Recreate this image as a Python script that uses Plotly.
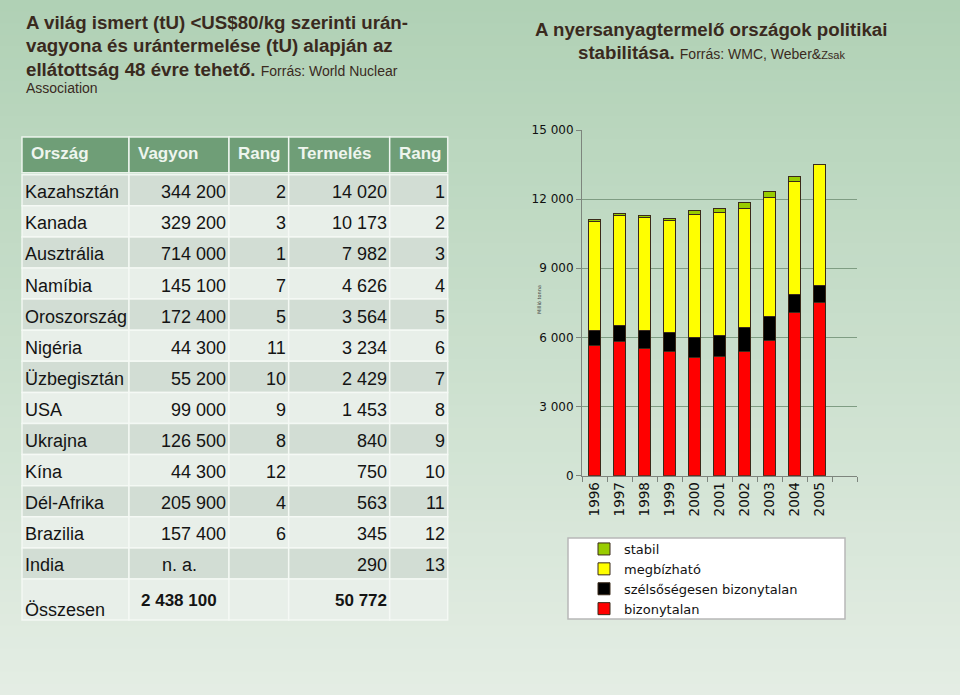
import plotly.graph_objects as go

# ---------------- data ----------------
years = [1996, 1997, 1998, 1999, 2000, 2001, 2002, 2003, 2004, 2005]
year_labels = ["1996", "1997", "1998", "1999", "2000", "2001", "2002", "2003", "2004", "2005"]
bizonytalan = [5640, 5840, 5510, 5390, 5150, 5190, 5390, 5880, 7080, 7500]
szelsoseges = [660, 695, 795, 840, 850, 880, 1045, 1015, 770, 740]
megbizhato = [4715, 4740, 4885, 4830, 5335, 5350, 5145, 5175, 4900, 5250]
stabil = [100, 90, 100, 100, 175, 175, 260, 245, 230, 0]
y_ticks = [0, 3000, 6000, 9000, 12000, 15000]

countries = ["Kazahsztán", "Kanada", "Ausztrália", "Namíbia", "Oroszország", "Nigéria",
             "Üzbegisztán", "USA", "Ukrajna", "Kína", "Dél-Afrika", "Brazilia", "India"]
vagyon = [344200, 329200, 714000, 145100, 172400, 44300, 55200, 99000, 126500, 44300,
          205900, 157400, None]
rang_vagyon = [2, 3, 1, 7, 5, 11, 10, 9, 8, 12, 4, 6, None]
termeles = [14020, 10173, 7982, 4626, 3564, 3234, 2429, 1453, 840, 750, 563, 345, 290]
rang_termeles = [1, 2, 3, 4, 5, 6, 7, 8, 9, 10, 11, 12, 13]
header = ["Ország", "Vagyon", "Rang", "Termelés", "Rang"]
total_label = "Összesen"
total_vagyon = 2438100
total_termeles = 50772

W, H = 960, 695


def fx(x):
    return x / W


def fy(y):
    return 1 - y / H


def fmt(v):
    return f"{v:,}".replace(",", " ")


fig = go.Figure()
fig.add_trace(go.Bar(x=years, y=bizonytalan, name="bizonytalan",
                     marker=dict(color="#ff0000", line=dict(color="#3a2a1a", width=1))))
fig.add_trace(go.Bar(x=years, y=szelsoseges, name="szélsőségesen bizonytalan",
                     marker=dict(color="#000000", line=dict(color="#3a2a1a", width=1))))
fig.add_trace(go.Bar(x=years, y=megbizhato, name="megbízható",
                     marker=dict(color="#ffff00", line=dict(color="#3a2a1a", width=1))))
fig.add_trace(go.Bar(x=years, y=stabil, name="stabil",
                     marker=dict(color="#99cc00", line=dict(color="#3a2a1a", width=1))))

shapes = []
annotations = []

# background gradient
top = (176, 209, 181)
bot = (228, 237, 228)
n = 60
for i in range(n):
    t = i / (n - 1)
    c = tuple(int(round(top[k] + (bot[k] - top[k]) * t)) for k in range(3))
    shapes.append(dict(type="rect", xref="paper", yref="paper", layer="below",
                       x0=0, x1=1, y0=fy(H * (i + 1) / n + 1), y1=fy(H * i / n),
                       fillcolor=f"rgb{c}", line=dict(width=0)))

# ---------------- table ----------------
cx = [22, 129, 229, 288.7, 389.7, 447.7]
head_top, head_bot = 137, 172.7
row_top, row_h = 174.7, 31.1
tot_top, tot_bot = 579, 620
head_fill = "#6f9e77"
dark_fill = "#d2ddd4"
light_fill = "#e8efe9"
grid_line = dict(color="rgba(245,250,245,0.9)", width=1.5)
txt_col = "#141414"

for j in range(5):
    shapes.append(dict(type="rect", xref="paper", yref="paper", layer="below",
                       x0=fx(cx[j]), x1=fx(cx[j + 1]), y0=fy(head_bot), y1=fy(head_top),
                       fillcolor=head_fill, line=grid_line))
    annotations.append(dict(x=fx(cx[j] + 7), y=fy((head_top + head_bot) / 2 - 1),
                            xref="paper", yref="paper", xanchor="left", yanchor="middle",
                            text=f"<b>{header[j]}</b>", showarrow=False,
                            font=dict(family="Liberation Sans", size=17, color="#eef5ee")))

for i, c in enumerate(countries):
    y0 = row_top + i * row_h
    y1 = y0 + row_h
    fill = dark_fill if i % 2 == 0 else light_fill
    for j in range(5):
        shapes.append(dict(type="rect", xref="paper", yref="paper", layer="below",
                           x0=fx(cx[j]), x1=fx(cx[j + 1]), y0=fy(y1), y1=fy(y0),
                           fillcolor=fill, line=grid_line))
    yc = fy((y0 + y1) / 2 + 2)
    font = dict(family="Liberation Sans", size=18, color=txt_col)
    annotations.append(dict(x=fx(cx[0] + 1), y=yc, xref="paper", yref="paper",
                            xanchor="left", yanchor="middle", text=c, showarrow=False, font=font))
    if vagyon[i] is None:
        annotations.append(dict(x=fx((cx[1] + cx[2]) / 2), y=yc, xref="paper", yref="paper",
                                xanchor="center", yanchor="middle", text="n. a.",
                                showarrow=False, font=font))
    else:
        annotations.append(dict(x=fx(cx[2] - 1), y=yc, xref="paper", yref="paper",
                                xanchor="right", yanchor="middle", text=fmt(vagyon[i]),
                                showarrow=False, font=font))
    if rang_vagyon[i] is not None:
        annotations.append(dict(x=fx(cx[3] - 1), y=yc, xref="paper", yref="paper",
                                xanchor="right", yanchor="middle", text=str(rang_vagyon[i]),
                                showarrow=False, font=font))
    annotations.append(dict(x=fx(cx[4] - 1), y=yc, xref="paper", yref="paper",
                            xanchor="right", yanchor="middle", text=fmt(termeles[i]),
                            showarrow=False, font=font))
    annotations.append(dict(x=fx(cx[5] - 1), y=yc, xref="paper", yref="paper",
                            xanchor="right", yanchor="middle", text=str(rang_termeles[i]),
                            showarrow=False, font=font))

for j in range(5):
    shapes.append(dict(type="rect", xref="paper", yref="paper", layer="below",
                       x0=fx(cx[j]), x1=fx(cx[j + 1]), y0=fy(tot_bot), y1=fy(tot_top),
                       fillcolor=light_fill, line=grid_line))
annotations.append(dict(x=fx(cx[0] + 1), y=fy(610), xref="paper", yref="paper",
                        xanchor="left", yanchor="middle", text=total_label, showarrow=False,
                        font=dict(family="Liberation Sans", size=18, color=txt_col)))
annotations.append(dict(x=fx((cx[1] + cx[2]) / 2), y=fy(600), xref="paper", yref="paper",
                        xanchor="center", yanchor="middle", text=f"<b>{fmt(total_vagyon)}</b>",
                        showarrow=False,
                        font=dict(family="Liberation Sans", size=17, color=txt_col)))
annotations.append(dict(x=fx(cx[4] - 1), y=fy(600), xref="paper", yref="paper",
                        xanchor="right", yanchor="middle", text=f"<b>{fmt(total_termeles)}</b>",
                        showarrow=False,
                        font=dict(family="Liberation Sans", size=17, color=txt_col)))

# ---------------- titles ----------------
tcol = "#3a2a1e"
tfont = dict(family="Liberation Sans", size=18.7, color=tcol)
left_lines = [
    "<b>A világ ismert (tU) &lt;US$80/kg szerinti urán-</b>",
    "<b>vagyona és urántermelése (tU) alapján az</b>",
    "<b>ellátottság 48 évre tehető.</b> <span style='font-size:14px'>Forrás: World Nuclear</span>",
]
for k, t in enumerate(left_lines):
    annotations.append(dict(x=fx(24), y=fy(23 + k * 23), xref="paper", yref="paper",
                            xanchor="left", yanchor="middle", text=t,
                            showarrow=False, font=tfont))
annotations.append(dict(x=fx(24), y=fy(88), xref="paper", yref="paper",
                        xanchor="left", yanchor="middle", text="Association",
                        showarrow=False, font=dict(family="Liberation Sans", size=14, color=tcol)))
annotations.append(dict(x=fx(711), y=fy(30), xref="paper", yref="paper",
                        xanchor="center", yanchor="middle",
                        text="<b>A nyersanyagtermelő országok politikai</b>",
                        showarrow=False, font=tfont))
annotations.append(dict(x=fx(711), y=fy(52), xref="paper", yref="paper",
                        xanchor="center", yanchor="middle",
                        text="<b>stabilitása.</b> <span style='font-size:14px'>Forrás: WMC, Weber&amp;</span>"
                             "<span style='font-size:11px'>Zsak</span>",
                        showarrow=False, font=tfont))

# y-axis title (tiny)
annotations.append(dict(x=fx(539), y=fy(300), xref="paper", yref="paper",
                        xanchor="center", yanchor="middle", text="Millió tonna",
                        textangle=-90, showarrow=False,
                        font=dict(family="DejaVu Sans", size=5, color="#444444")))

# legend box
shapes.append(dict(type="rect", xref="paper", yref="paper", layer="above",
                   x0=fx(568), x1=fx(845), y0=fy(619), y1=fy(538),
                   fillcolor="#ffffff", line=dict(color="#b8b8b8", width=1.5)))

fig.update_layout(
    width=W, height=H,
    margin=dict(l=0, r=0, t=0, b=0, pad=0, autoexpand=False),
    paper_bgcolor="#c8dfca",
    plot_bgcolor="rgba(0,0,0,0)",
    barmode="stack",
    bargap=0.5,
    separators=", ",
    showlegend=True,
    legend=dict(x=fx(584), y=fy(534), xanchor="left", yanchor="top",
                traceorder="reversed", bgcolor="rgba(0,0,0,0)", borderwidth=0,
                font=dict(family="DejaVu Sans", size=13, color="#111111"),
                tracegroupgap=0),
    xaxis=dict(domain=[fx(582), fx(857)], range=[1995.5, 2006.5], automargin=False,
               tickmode="array", tickvals=years, ticktext=year_labels, tickangle=-90,
               ticks="", showgrid=False, zeroline=False,
               showline=True, linecolor="#7d857d", linewidth=1,
               tickfont=dict(family="DejaVu Sans", size=13.5, color="#111111"),
               minor=dict(tickmode="array", tickvals=[1995.5 + i for i in range(12)],
                          ticks="outside", ticklen=5, tickcolor="#7d857d", showgrid=False)),
    yaxis=dict(domain=[fy(475.7), fy(130)], range=[0, 15000], automargin=False,
               tickmode="array", tickvals=y_ticks, tickformat=",d",
               ticks="outside", ticklen=5, tickcolor="#7d857d",
               showgrid=True, gridcolor="#7f9d83", gridwidth=1, zeroline=False,
               showline=True, linecolor="#7d857d", linewidth=1,
               tickfont=dict(family="DejaVu Sans", size=12, color="#111111")),
    shapes=shapes,
    annotations=annotations,
    font=dict(family="DejaVu Sans"),
)

post = (
    "document.documentElement.style.margin='0';"
    "document.documentElement.style.padding='0';"
    "document.documentElement.style.overflow='hidden';"
    "document.body.style.margin='0';"
    "document.body.style.padding='0';"
    "document.body.style.overflow='hidden';"
    "var gd=document.querySelector('.plotly-graph-div');"
    "if(gd){gd.style.position='fixed';gd.style.left='0px';gd.style.top='0px';}"
)

fig.write_html("out.html", config={"displayModeBar": False}, post_script=post)
